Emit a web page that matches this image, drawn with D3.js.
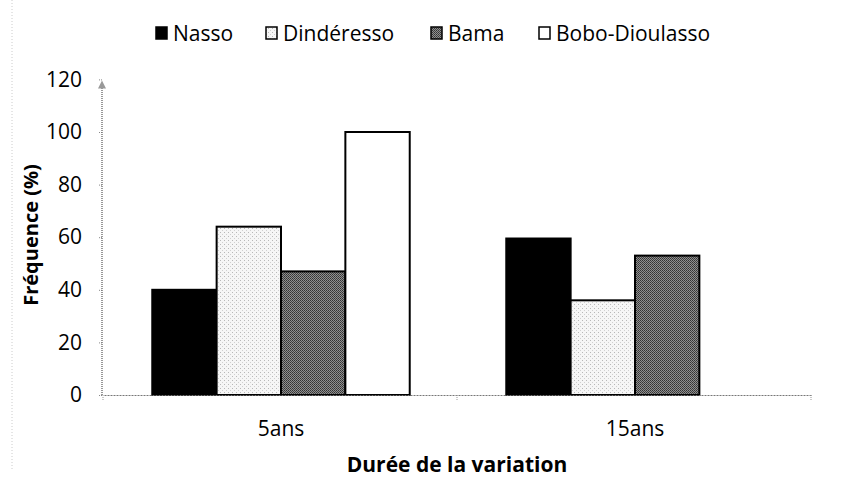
<!DOCTYPE html>
<html>
<head>
<meta charset="utf-8">
<script src="https://cdn.jsdelivr.net/npm/d3@7"></script>
<style>
  body { margin: 0; background: #fff; }
  svg { font-family: "Open Sans", sans-serif; }
</style>
</head>
<body>
<div id="chart"></div>
<script>
var categories = ['5ans', '15ans'];
var series = ['Nasso', 'Dindéresso', 'Bama', 'Bobo-Dioulasso'];
var nasso = [40, 59.5];
var dinderesso = [64, 36];
var bama = [47, 53];
var bobo = [100, 0];
var yTicks = [0, 20, 40, 60, 80, 100, 120];

var values = [nasso, dinderesso, bama, bobo];
var fills = ['#000', 'url(#dots)', 'url(#dither)', '#fff'];

var width = 844, height = 482;
var svg = d3.select('#chart').append('svg')
  .attr('width', width).attr('height', height);

// patterns for the scanned look
var defs = svg.append('defs');
var dots = defs.append('pattern').attr('id', 'dots')
  .attr('patternUnits', 'userSpaceOnUse').attr('width', 4).attr('height', 4);
dots.append('rect').attr('width', 4).attr('height', 4).attr('fill', '#f6f6f6');
dots.append('rect').attr('x', 0).attr('y', 0).attr('width', 1).attr('height', 1).attr('fill', '#b8b8b8');
dots.append('rect').attr('x', 2).attr('y', 2).attr('width', 1).attr('height', 1).attr('fill', '#d0d0d0');
var dither = defs.append('pattern').attr('id', 'dither')
  .attr('patternUnits', 'userSpaceOnUse').attr('width', 2).attr('height', 2);
dither.append('rect').attr('width', 2).attr('height', 2).attr('fill', '#909090');
dither.append('rect').attr('width', 1).attr('height', 1).attr('fill', '#333');
dither.append('rect').attr('x', 1).attr('y', 1).attr('width', 1).attr('height', 1).attr('fill', '#444');

var x0 = d3.scaleBand().domain(categories).range([104, 812]);
var x1 = d3.scaleBand().domain(d3.range(series.length))
  .range([0, x0.bandwidth()]).paddingOuter(0.75);
var y = d3.scaleLinear().domain([0, 120]).range([395, 79.4]);

// faint scan border on the left
svg.append('line').attr('x1', 12).attr('x2', 12).attr('y1', 0).attr('y2', 470)
  .attr('stroke', '#ccc').attr('stroke-dasharray', '1,2');

// bars
categories.forEach(function(c, ci) {
  var g = svg.append('g').attr('transform', 'translate(' + x0(c) + ',0)');
  values.forEach(function(v, si) {
    if (!v[ci]) return;
    g.append('rect')
      .attr('x', x1(si))
      .attr('y', y(v[ci]))
      .attr('width', x1.bandwidth())
      .attr('height', y(0) - y(v[ci]))
      .attr('fill', fills[si])
      .attr('stroke', '#000')
      .attr('stroke-width', 2);
  });
});

// y axis
var yAxis = d3.axisLeft(y).tickValues(yTicks).tickSize(4).tickPadding(16);
var gy = svg.append('g').attr('transform', 'translate(102,0)').call(yAxis);
gy.select('.domain').remove();
gy.selectAll('.tick line').attr('stroke', '#888').attr('stroke-dasharray', '1,1');
gy.selectAll('.tick text').attr('font-size', 21).attr('fill', '#000')
  .attr('font-family', '"Open Sans", sans-serif');
svg.append('line').attr('x1', 102).attr('x2', 102).attr('y1', y(0)).attr('y2', y(120) + 6)
  .attr('stroke', '#777').attr('stroke-width', 1.5).attr('stroke-dasharray', '1,1');
svg.append('path').attr('d', 'M' + 98 + ',' + (y(120) + 9) + 'L102,' + (y(120) + 1) + 'L106,' + (y(120) + 9) + 'Z')
  .attr('fill', '#999');

// x axis
var xAxis = d3.axisBottom(x0).tickSize(0).tickPadding(26);
var gx = svg.append('g').attr('transform', 'translate(0,' + y(0) + ')').call(xAxis);
gx.select('.domain').attr('stroke', '#777').attr('stroke-dasharray', '2,1').attr('stroke-width', 1.2);
gx.selectAll('.tick text').attr('font-size', 21).attr('fill', '#000')
  .attr('font-family', '"Open Sans", sans-serif');
[103, 457, 811].forEach(function(px) {
  svg.append('line').attr('x1', px).attr('x2', px).attr('y1', y(0)).attr('y2', y(0) + 6)
    .attr('stroke', '#999').attr('stroke-dasharray', '1,1');
});

// axis titles
svg.append('text').attr('x', 457).attr('y', 472).attr('text-anchor', 'middle')
  .attr('font-size', 21).attr('font-weight', 'bold').attr('fill', '#000')
  .text('Durée de la variation');
svg.append('text').attr('transform', 'translate(38,235) rotate(-90)')
  .attr('text-anchor', 'middle').attr('font-size', 20).attr('font-weight', 'bold')
  .attr('fill', '#000').text('Fréquence (%)');

// legend
var legendX = [155, 265, 430, 538];
var lg = svg.append('g');
series.forEach(function(s, i) {
  lg.append('rect').attr('x', legendX[i] + 1).attr('y', 27).attr('width', 11).attr('height', 12)
    .attr('fill', fills[i]).attr('stroke', '#000').attr('stroke-width', 1.5);
  lg.append('text').attr('x', legendX[i] + 18).attr('y', 41)
    .attr('font-size', 21).attr('fill', '#000').text(s);
});
</script>
</body>
</html>
